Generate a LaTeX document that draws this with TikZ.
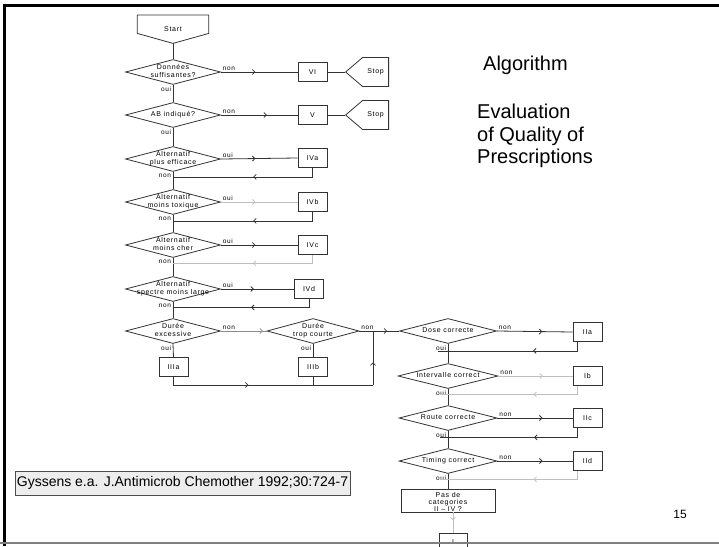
\documentclass[tikz,border=0pt]{standalone}
\usepackage{fontspec}
\setmainfont{Liberation Sans}
\newfontfamily\flowfont[LetterSpace=10]{Liberation Sans}
\usetikzlibrary{arrows.meta,calc,shapes.geometric,shapes.symbols,decorations.markings}

\newcommand{\dtext}[2][2pt]{\makebox[0pt]{\raisebox{-#1}[0pt][0pt]{\begin{tabular}{@{}c@{}}#2\end{tabular}}}}

\begin{document}
\begin{tikzpicture}[x=1pt, y=-1pt,
    font=\flowfont\fontsize{7}{8}\selectfont,
    line/.style={draw=black!80, line width=0.8pt},
    gline/.style={draw=black!25, line width=0.8pt},
    mline/.style={draw=black!45, line width=0.8pt},
    arr/.style={postaction={decorate, decoration={markings,
        mark=at position #1 with {\arrow{Straight Barb[length=2.5pt,width=5pt]}}}}},
    arr/.default=0.5,
    dec/.style={diamond, draw=black!80, line width=0.8pt, inner sep=0pt,
        minimum width=95, minimum height=25},
    box/.style={draw=black!80, line width=0.8pt, inner sep=0pt,
        minimum width=29, minimum height=19},
    stopbox/.style={signal, signal to=west, signal pointer angle=81, draw=black!80,
        line width=0.8pt, inner sep=0pt, minimum width=43, minimum height=29},
    lbl/.style={inner sep=1.5pt, font=\flowfont\fontsize{6.5}{7}\selectfont},
    big/.style={inner sep=0pt, font=\normalfont\fontsize{20}{22.5}\selectfont}
]
    \useasboundingbox (0,0) rectangle (719,546);

    % left column: start, checks and category IV-VI
    \node[inner sep=0pt, minimum width=71, minimum height=28, anchor=north] (start) at (173,15) {Start};
    \draw[black!80, line width=0.8pt] (start.north west) -- (start.north east)
        -- ([yshift=10pt]start.south east) -- (start.south)
        -- ([yshift=10pt]start.south west) -- cycle;
    \node[dec] (d1) at (173,72) {\dtext{Données\\suffisantes?}};
    \node[dec] (d2) at (173,115) {\dtext{AB indiqué?}};
    \node[dec] (d3) at (173,159) {\dtext{Alternatif\\plus efficace}};
    \node[dec] (d4) at (173,202) {\dtext{Alternatif\\moins toxique}};
    \node[dec] (d5) at (173,245) {\dtext{Alternatif\\moins cher}};
    \node[dec] (d6) at (173,289) {\dtext{Alternatif\\spectre moins large}};
    \node[dec] (d7) at (173,331) {\dtext{Durée\\excessive}};
    \node[dec, minimum width=92] (d8) at (313,331) {\dtext{Durée\\trop courte}};

    \node[box] (vi) at (312.5,72) {VI};
    \node[box] (v) at (312.5,115) {V};
    \node[stopbox, anchor=west] (stop1) at (345,72) {Stop};
    \node[stopbox, anchor=west] (stop2) at (345,115) {Stop};
    \node[box] (iva) at (312.5,158) {IVa};
    \node[box] (ivb) at (312.5,202) {IVb};
    \node[box] (ivc) at (312.5,245) {IVc};
    \node[box] (ivd) at (309,289) {IVd};
    \node[box] (iiia) at (173.5,367) {IIIa};
    \node[box] (iiib) at (313,367) {IIIb};

    % right column: dose, interval, route, timing
    \node[dec, minimum width=97] (d9) at (448,331) {\dtext{Dose correcte}};
    \node[dec, minimum width=100] (d10) at (448,376) {\dtext{Intervalle correct}};
    \node[dec, minimum width=98] (d11) at (448,418) {\dtext{Route correcte}};
    \node[dec, minimum width=98] (d12) at (448,461) {\dtext{Timing correct}};
    \node[box] (iia) at (587.5,332) {IIa};
    \node[box] (ib) at (587.5,376) {Ib};
    \node[box] (iic) at (587.5,418) {IIc};
    \node[box] (iid) at (587.5,461) {IId};
    \node[box, minimum width=94, minimum height=23] (pas) at (448,500.5)
        {\fontsize{7}{7}\selectfont\dtext[4pt]{Pas de\\categories\\II – IV ?}};
    \node[box, minimum width=28, minimum height=18] (ione) at (453,542) {I};

    % main line, left column
    \draw[line] (start.south) -- (d1.north);
    \draw[line] (d1.south) -- node[lbl, below left, pos=0] (o1) {oui} (d2.north);
    \draw[line] (d2.south) -- node[lbl, below left, pos=0] (o2) {oui} (d3.north);
    \draw[line] (d3.south) -- node[lbl, below left, pos=0] (n3) {non} (d4.north);
    \draw[line] (d4.south) -- node[lbl, below left, pos=0] (n4) {non} (d5.north);
    \draw[line] (d5.south) -- node[lbl, below left, pos=0] (n5) {non} (d6.north);
    \draw[line] (d6.south) -- node[lbl, below left, pos=0] (n6) {non} (d7.north);

    % exits to VI and V
    \draw[line, arr=0.45] (d1.east) -- node[lbl, above right, pos=0] (n1) {non} (vi.west);
    \draw[line] (vi.east) -- (stop1.west);
    \draw[line, arr=0.6] (d2.east) -- node[lbl, above right, pos=0] (n2) {non} (v.west);
    \draw[line] (v.east) -- (stop2.west);

    % alternatives IVa-IVd and back
    \draw[line, arr=0.45] (d3.east) -- node[lbl, above right, pos=0] (o3) {oui} (iva.west);
    \draw[line, arr=0.46] (iva.south) |- ([yshift=-5pt]d3.south);
    \draw[gline, arr=0.45] (d4.east) -- node[lbl, above right, pos=0] (o4) {oui} (ivb.west);
    \draw[line, arr=0.46] (ivb.south) |- ([yshift=-6pt]d4.south);
    \draw[line, arr=0.45] (d5.east) -- node[lbl, above right, pos=0] (o5) {oui} (ivc.west);
    \draw[gline, arr=0.46] (ivc.south) |- ([yshift=-5.5pt]d5.south);
    \draw[line, arr=0.45] (d6.east) -- node[lbl, above right, pos=0] (o6) {oui} (ivd.west);
    \draw[line, arr=0.46] (ivd.south) |- ([yshift=-5.5pt]d6.south);

    % duration
    \coordinate (jn) at (373,331);
    \coordinate (jb) at (jn |- 0,385);
    \draw[mline, arr=0.92] (d7.east) -- node[lbl, above right, pos=0] (n7) {non} (d8.west);
    \draw[line, arr=0.7] (d8.east) -- node[lbl, above right, pos=0] (n8) {non} (d9.west);
    \draw[line] (d7.south) -- node[lbl, below left, pos=0] (o7) {oui} (iiia.north);
    \draw[line] (d8.south) -- node[lbl, below left, pos=0] (o8) {oui} (iiib.north);
    \draw[line, arr=0.4] (iiia.south) |- (jb);
    \draw[line, arr=0.42] (jb) -- (jn);
    \draw[line] (iiib.south) -- (iiib.south |- jb);

    % main line, right column
    \draw[line] (d9.south) -- node[lbl, below left, pos=0] (o9) {oui} (d10.north);
    \draw[line] (d10.south) -- node[lbl, below left, pos=0] (o10) {oui} (d11.north);
    \draw[line] (d11.south) -- node[lbl, below left, pos=0] (o11) {oui} (d12.north);
    \draw[line] (d12.south) -- node[lbl, below left, pos=0] (o12) {oui} (pas.north);
    \draw[gline, arr=0.4] (ione.north |- pas.south) -- (ione.north);

    % exits to II and back
    \draw[line, arr=0.6] (d9.east) -- node[lbl, above right, pos=0] (n9) {non} (iia.west);
    \draw[line, arr=0.36] ([xshift=-10pt]iia.south) |- ([xshift=-10pt,yshift=-7pt]d9.south);
    \draw[gline, arr=0.6] (d10.east) -- node[lbl, above right, pos=0] (n10) {non} (ib.west);
    \draw[gline, arr=0.36] ([xshift=-10pt]ib.south) |- ([xshift=-8pt,yshift=-5.5pt]d10.south);
    \draw[line, arr=0.6] (d11.east) -- node[lbl, above right, pos=0] (n11) {non} (iic.west);
    \draw[line, arr=0.36] ([xshift=-10pt]iic.south) |- ([xshift=-8pt,yshift=-6.5pt]d11.south);
    \draw[line, arr=0.6] (d12.east) -- node[lbl, above right, pos=0] (n12) {non} (iid.west);
    \draw[gline, arr=0.36] ([xshift=-10pt]iid.south) |- ([xshift=-8pt,yshift=-5.5pt]d12.south);

    % titles and reference
    \node[big, anchor=base west] (title) at (483,70) {Algorithm};
    \node[big, anchor=north west, align=left] (sub) at (477,104) {Evaluation\\of Quality of\\Prescriptions};
    \node[draw=black!70, fill=black!7, line width=0.8pt, minimum width=335, minimum height=24,
        inner sep=0pt, font=\normalfont\fontsize{14}{16}\selectfont] (ref) at (182.5,483)
        {Gyssens e.a. J.Antimicrob Chemother 1992;30:724-7};
    \node[inner sep=0pt, font=\normalfont\fontsize{12}{14}\selectfont, anchor=base] (page) at (680,518) {15};

    % slide frame
    \draw[line width=3pt] (3,5) -- (719,5);
    \draw[line width=3pt] (4.5,5) -- (4.5,546);
    \draw[black!50, line width=1.5pt] (0,543) -- (719,543);
\end{tikzpicture}
\end{document}
